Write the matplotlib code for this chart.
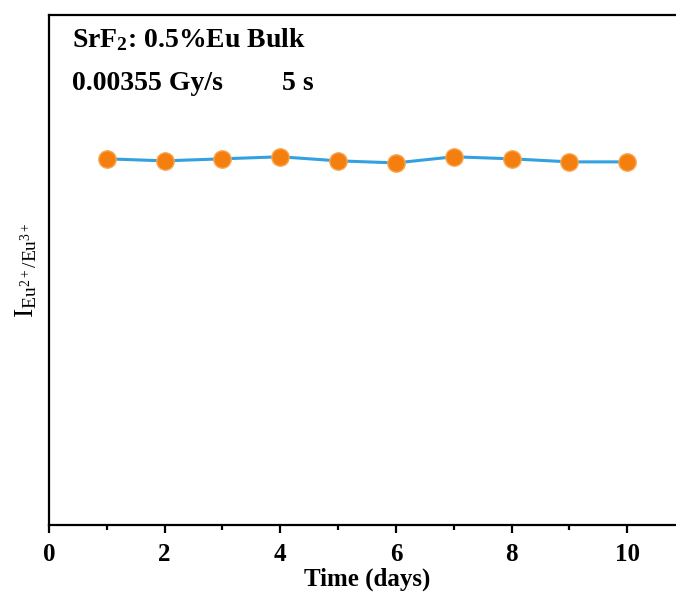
import matplotlib
matplotlib.use("Agg")
import matplotlib.pyplot as plt
from matplotlib.ticker import MultipleLocator

plt.rcParams["font.family"] = "Liberation Serif"
plt.rcParams["font.weight"] = "bold"
plt.rcParams["mathtext.fontset"] = "custom"
plt.rcParams["mathtext.rm"] = "Liberation Serif:bold"
plt.rcParams["mathtext.it"] = "Liberation Serif:bold"
plt.rcParams["mathtext.bf"] = "Liberation Serif:bold"

# datos
dias = [1, 2, 3, 4, 5, 6, 7, 8, 9, 10]
intensidad = [0.718, 0.714, 0.718, 0.722, 0.714, 0.710, 0.722, 0.718, 0.712, 0.712]

fig = plt.figure(figsize=(6.76, 5.98), dpi=100)
ax = fig.add_axes([49 / 676, 73 / 598, 636 / 676, 510 / 598])

ax.plot(dias, intensidad, color="#33a0e0", lw=2.2, zorder=2)
ax.plot(dias, intensidad, ls="none", marker="o", ms=12.5,
        mfc="#f57f0e", mec="#f8a650", mew=1.0, zorder=3)

ax.set_xlim(0, 11)
ax.set_ylim(0, 1)
ax.xaxis.set_major_locator(MultipleLocator(2))
ax.xaxis.set_minor_locator(MultipleLocator(1))
ax.set_yticks([])
ax.tick_params(axis="x", which="major", direction="out", length=6, width=1.6,
               labelsize=18, pad=7)
ax.tick_params(axis="x", which="minor", direction="out", length=3.5, width=1.6)
for s in ax.spines.values():
    s.set_linewidth(1.6)

ax.set_xlabel("Time (days)", fontsize=18, fontweight="bold", labelpad=1)
ax.set_ylabel(r"I$_{\mathregular{Eu^{2+}/Eu^{3+}}}$", fontsize=20, labelpad=7)

ax.text(72 / 676, 1 - 40 / 598, r"SrF$_2$: 0.5%Eu Bulk", transform=fig.transFigure,
        fontsize=20, fontweight="bold", va="center", ha="left")
ax.text(72 / 676, 1 - 83 / 598, "0.00355 Gy/s", transform=fig.transFigure,
        fontsize=20, fontweight="bold", va="center", ha="left")
ax.text(282 / 676, 1 - 83 / 598, "5 s", transform=fig.transFigure,
        fontsize=20, fontweight="bold", va="center", ha="left")

plt.savefig("out.png", dpi=100)
plt.close()
